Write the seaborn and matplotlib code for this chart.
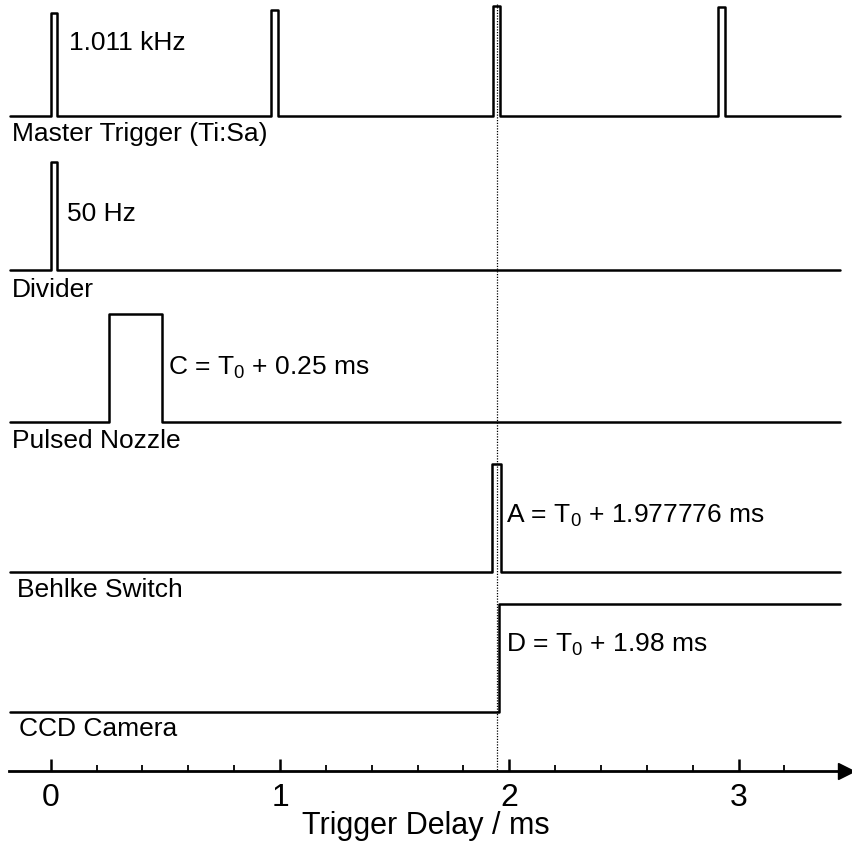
import numpy as np
import pandas as pd
import matplotlib
matplotlib.use("Agg")
import matplotlib.pyplot as plt
import seaborn as sns
from matplotlib.ticker import FixedLocator

sns.set_theme(style="white")
plt.rcParams["font.family"] = ["Liberation Sans", "DejaVu Sans"]
plt.rcParams["mathtext.default"] = "regular"

# ---- timing data (ms) ----
channels = ["Master Trigger (Ti:Sa)", "Divider", "Pulsed Nozzle", "Behlke Switch", "CCD Camera"]
master_starts = [0.0, 0.962, 1.930, 2.910]
master_width = 0.029
master_levels = [0.95, 0.98, 1.02, 1.01]
divider_starts = [0.0]
divider_width = 0.029
nozzle_start = 0.255
nozzle_width = 0.232
behlke_start = 1.923
behlke_width = 0.042
ccd_step = 1.955
marker_time = 1.946
t_start, t_end = -0.178, 3.442

annotations = ["1.011 kHz", "50 Hz", r"C = T$_0$ + 0.25 ms",
               r"A = T$_0$ + 1.977776 ms", r"D = T$_0$ + 1.98 ms"]
tick_values = [0, 1, 2, 3]
minor_tick_values = [0.2, 0.4, 0.6, 0.8, 1.2, 1.4, 1.6, 1.8,
                     2.2, 2.4, 2.6, 2.8, 3.2]

# ---- layout (pixel rows from the top of the figure) ----
W, H, DPI = 852, 845, 100
axis_y = 771.5
row_base = [117, 271, 423, 573, 713]
amp = 108


def pulse_train(starts, width, levels=None):
    xs, ys = [t_start], [0.0]
    for i, s in enumerate(starts):
        lv = 1.0 if levels is None else levels[i]
        xs += [s, s, s + width, s + width]
        ys += [0.0, lv, lv, 0.0]
    xs.append(t_end)
    ys.append(0.0)
    return xs, ys


traces = [
    pulse_train(master_starts, master_width, master_levels),
    pulse_train(divider_starts, divider_width),
    pulse_train([nozzle_start], nozzle_width),
    pulse_train([behlke_start], behlke_width),
    ([t_start, ccd_step, ccd_step, t_end], [0.0, 0.0, 1.0, 1.0]),
]

frames = []
for k, (name, (xs, ys)) in enumerate(zip(channels, traces)):
    frames.append(pd.DataFrame({
        "t": xs,
        "y": [row_base[k] - amp * v for v in ys],
        "channel": name,
        "order": np.arange(len(xs)),
    }))
df = pd.concat(frames, ignore_index=True)

fig = plt.figure(figsize=(W / DPI, H / DPI), dpi=DPI)
ax = fig.add_axes([0, (H - axis_y) / H, 1, axis_y / H])
ax.set_facecolor("none")

sns.lineplot(data=df, x="t", y="y", units="channel", estimator=None, sort=False,
             color="black", lw=1.8, ax=ax, legend=False)

# x range mapped so 0 ms sits at 50.7 px and 1 ms spans 229.3 px
x0_px, px_per_ms = 50.7, 229.3
ax.set_xlim(-x0_px / px_per_ms, (W - x0_px) / px_per_ms)
ax.set_ylim(axis_y, 0)

# vertical reference line at the trigger time
ax.plot([marker_time, marker_time], [5, axis_y], color="black", lw=0.9,
        ls=(0, (1, 1.2)), zorder=1)

# channel names
label_x = [12, 12, 12, 17, 19]
label_y = [134, 290, 441, 590, 729]
for name, lx, ly in zip(channels, label_x, label_y):
    ax.text((lx - x0_px) / px_per_ms, ly, name, fontsize=19, va="center", ha="left",
            color="black")

# annotations
ann_x = [69, 67, 168, 506, 506]
ann_y = [43, 214, 368, 516, 645]
for txt, axp, ayp in zip(annotations, ann_x, ann_y):
    ax.text((axp - x0_px) / px_per_ms, ayp, txt, fontsize=19, va="center", ha="left",
            color="black")

# x axis with arrow
for s in ["top", "left", "right"]:
    ax.spines[s].set_visible(False)
ax.spines["bottom"].set_color("black")
ax.spines["bottom"].set_linewidth(2.0)
ax.spines["bottom"].set_bounds((9 - x0_px) / px_per_ms, (842 - x0_px) / px_per_ms)
ax.plot([(845.5 - x0_px) / px_per_ms], [axis_y], marker=">", color="black",
        markersize=11, clip_on=False, zorder=5)

ax.set_xticks(tick_values)
ax.set_xticklabels([str(v) for v in tick_values])
ax.xaxis.set_minor_locator(FixedLocator(minor_tick_values))
ax.tick_params(axis="x", which="major", direction="in", length=9, width=1.8,
               labelsize=23, pad=8, colors="black", bottom=True)
ax.tick_params(axis="x", which="minor", direction="in", length=4.5, width=1.3,
               colors="black", bottom=True)
ax.set_yticks([])
ax.set_ylabel("")
ax.set_xlabel("Trigger Delay / ms", fontsize=22, labelpad=-1, color="black")

fig.savefig("out.png", dpi=DPI)
